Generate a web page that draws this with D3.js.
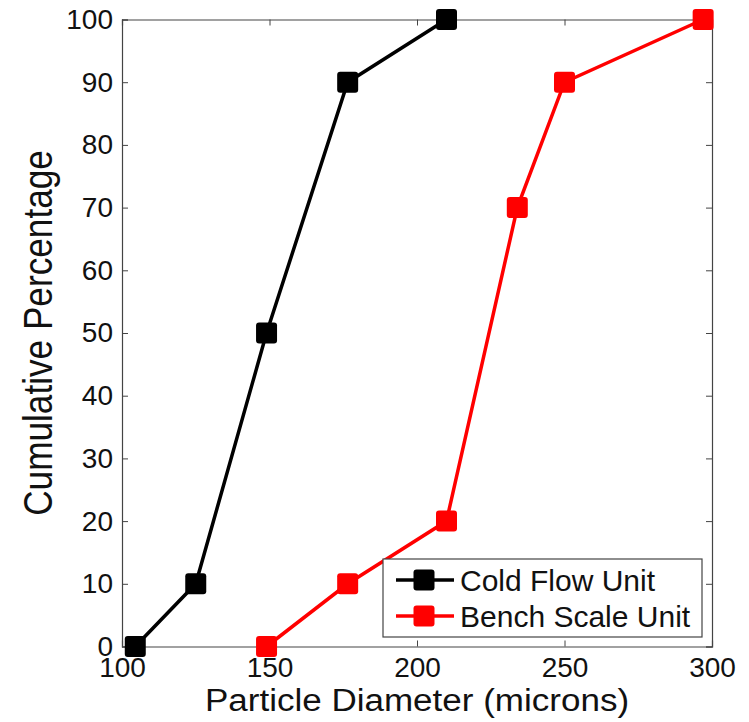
<!DOCTYPE html>
<html>
<head>
<meta charset="utf-8">
<script src="https://cdn.jsdelivr.net/npm/d3@7"></script>
<style>
  body { margin: 0; background: #fff; }
  text { font-family: "Liberation Sans", Arial, sans-serif; fill: #111; }
</style>
</head>
<body>
<div id="chart"></div>
<script>
// values
const coldDiameter = [104.5, 125, 149, 176.5, 210];
const coldPercent = [0, 10, 50, 90, 100];
const benchDiameter = [149, 176.5, 210, 234, 250, 297];
const benchPercent = [0, 10, 20, 70, 90, 100];
const xTicks = [100, 150, 200, 250, 300];
const yTicks = [0, 10, 20, 30, 40, 50, 60, 70, 80, 90, 100];
const seriesNames = ['Cold Flow Unit', 'Bench Scale Unit'];
const seriesColors = ['#000', '#f00'];

const width = 749, height = 722;
const margin = { top: 19.5, right: 37, bottom: 75.5, left: 122 };

const svg = d3.select('#chart').append('svg')
  .attr('width', width)
  .attr('height', height);

const x = d3.scaleLinear().domain([100, 300]).range([margin.left, width - margin.right]);
const y = d3.scaleLinear().domain([0, 100]).range([height - margin.bottom, margin.top]);

// axes, ticks pointing in on all four sides
const tickLen = 6;
const gx = svg.append('g')
  .attr('transform', `translate(0,${y(0)})`)
  .call(d3.axisBottom(x).tickValues(xTicks).tickSize(-tickLen).tickPadding(9));
const gy = svg.append('g')
  .attr('transform', `translate(${x(100)},0)`)
  .call(d3.axisLeft(y).tickValues(yTicks).tickSize(-tickLen).tickPadding(9));
svg.append('g')
  .attr('transform', `translate(0,${y(100)})`)
  .call(d3.axisTop(x).tickValues(xTicks).tickSize(-tickLen).tickFormat(''));
svg.append('g')
  .attr('transform', `translate(${x(300)},0)`)
  .call(d3.axisRight(y).tickValues(yTicks).tickSize(-tickLen).tickFormat(''));

svg.selectAll('.domain').attr('stroke', '#444').attr('stroke-width', 1.2);
svg.selectAll('.tick line').attr('stroke', '#444');
gx.selectAll('.tick text').attr('font-size', 28).attr('dy', '0.75em').style('fill', '#111');
gy.selectAll('.tick text').attr('font-size', 28).style('fill', '#111');

// axis titles (glyphs stretched a bit, as in the original export)
svg.append('text')
  .attr('transform', `translate(${x(200)},711) scale(1.13,1)`)
  .attr('text-anchor', 'middle')
  .attr('font-size', 31)
  .text('Particle Diameter (microns)');
svg.append('text')
  .attr('transform', `translate(52,${y(50)}) rotate(-90) scale(0.88,1)`)
  .attr('text-anchor', 'middle')
  .attr('font-size', 40)
  .text('Cumulative Percentage');

// series
const series = [
  coldDiameter.map((d, i) => ({ x: d, y: coldPercent[i] })),
  benchDiameter.map((d, i) => ({ x: d, y: benchPercent[i] }))
];
const line = d3.line().x(d => x(d.x)).y(d => y(d.y));
const mk = 21;

series.forEach((pts, s) => {
  const g = svg.append('g');
  g.append('path')
    .attr('d', line(pts))
    .attr('fill', 'none')
    .attr('stroke', seriesColors[s])
    .attr('stroke-width', 3.5);
  g.selectAll('rect').data(pts).join('rect')
    .attr('x', d => x(d.x) - mk / 2)
    .attr('y', d => y(d.y) - mk / 2)
    .attr('width', mk)
    .attr('height', mk)
    .attr('rx', 3)
    .attr('fill', seriesColors[s]);
});

// legend
const legend = svg.append('g').attr('transform', 'translate(383,559)');
legend.append('rect')
  .attr('width', 319)
  .attr('height', 78)
  .attr('fill', '#fff')
  .attr('stroke', '#444')
  .attr('stroke-width', 1.2);
seriesNames.forEach((name, i) => {
  const row = legend.append('g').attr('transform', `translate(0,${21 + i * 36})`);
  row.append('line')
    .attr('x1', 13).attr('x2', 71)
    .attr('stroke', seriesColors[i])
    .attr('stroke-width', 3.5);
  row.append('rect')
    .attr('x', 41 - mk / 2).attr('y', -mk / 2)
    .attr('width', mk).attr('height', mk)
    .attr('rx', 3)
    .attr('fill', seriesColors[i]);
  row.append('text')
    .attr('x', 77)
    .attr('dy', '0.36em')
    .attr('font-size', 30)
    .text(name);
});
</script>
</body>
</html>
